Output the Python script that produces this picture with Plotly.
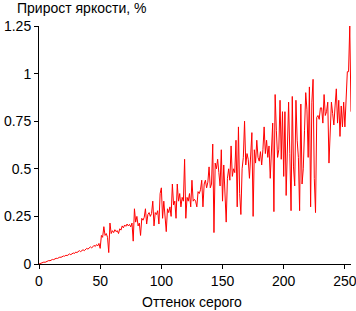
import plotly.graph_objects as go

gray_levels = list(range(256))

brightness_gain = [
    0.000, 0.003, 0.005, 0.008, 0.010, 0.009, 0.013, 0.016, 0.018, 0.017,
    0.021, 0.024, 0.023, 0.028, 0.030, 0.029, 0.033, 0.036, 0.035, 0.040,
    0.042, 0.041, 0.046, 0.044, 0.050, 0.053, 0.049, 0.056, 0.058, 0.055,
    0.063, 0.060, 0.066, 0.070, 0.065, 0.072, 0.075, 0.070, 0.079, 0.082,
    0.078, 0.085, 0.090, 0.084, 0.093, 0.098, 0.092, 0.102, 0.095, 0.108,
    0.082, 0.150, 0.140, 0.196, 0.150, 0.160, 0.140, 0.060, 0.215, 0.160,
    0.175, 0.165, 0.180, 0.170, 0.175, 0.160, 0.185, 0.178, 0.200, 0.190,
    0.205, 0.198, 0.210, 0.200, 0.208, 0.195, 0.215, 0.120, 0.290, 0.220,
    0.250, 0.200, 0.215, 0.150, 0.240, 0.230, 0.245, 0.290, 0.210, 0.260,
    0.270, 0.250, 0.265, 0.330, 0.200, 0.270, 0.260, 0.280, 0.210, 0.370,
    0.400, 0.240, 0.330, 0.250, 0.170, 0.290, 0.270, 0.300, 0.250, 0.420,
    0.310, 0.330, 0.240, 0.420, 0.330, 0.370, 0.300, 0.350, 0.330, 0.550,
    0.240, 0.350, 0.330, 0.370, 0.300, 0.440, 0.330, 0.340, 0.330, 0.300,
    0.380, 0.370, 0.390, 0.440, 0.300, 0.420, 0.440, 0.400, 0.430, 0.510,
    0.400, 0.420, 0.630, 0.165, 0.530, 0.500, 0.550, 0.480, 0.410, 0.600,
    0.330, 0.520, 0.320, 0.220, 0.450, 0.500, 0.440, 0.620, 0.460, 0.500,
    0.480, 0.650, 0.300, 0.720, 0.370, 0.260, 0.500, 0.560, 0.750, 0.520,
    0.580, 0.550, 0.450, 0.570, 0.690, 0.250, 0.600, 0.530, 0.650, 0.560,
    0.540, 0.590, 0.520, 0.600, 0.720, 0.580, 0.650, 0.560, 0.620, 0.450,
    0.640, 0.740, 0.275, 0.890, 0.700, 0.560, 0.600, 0.860, 0.550, 0.800,
    0.460, 0.800, 0.360, 0.620, 0.850, 0.580, 0.280, 0.880, 0.510, 0.410,
    0.860, 0.650, 0.560, 0.280, 0.840, 0.420, 0.500, 0.700, 0.900, 0.810,
    0.560, 0.930, 0.300, 0.850, 0.970, 0.450, 0.270, 0.770, 0.780, 0.760,
    0.820, 0.820, 0.740, 0.890, 0.780, 0.800, 0.850, 0.530, 0.740, 0.850,
    0.790, 0.730, 0.830, 0.920, 0.740, 0.860, 0.670, 0.830, 0.720, 0.850,
    0.720, 0.860, 1.010, 1.010, 1.250, 0.800,
]

x_ticks = [0, 50, 100, 150, 200, 250]
y_ticks = [0, 0.25, 0.5, 0.75, 1, 1.25]
y_tick_text = ["0", "0.25", "0.5", "0.75", "1", "1.25"]

FONT = "Liberation Sans, Arial, sans-serif"

fig = go.Figure(
    go.Scatter(
        x=gray_levels,
        y=brightness_gain,
        mode="lines",
        line=dict(color="#ff0000", width=1),
        hoverinfo="skip",
    )
)

fig.update_layout(
    width=356,
    height=311,
    margin=dict(l=39, r=5, t=26, b=47, autoexpand=False),
    paper_bgcolor="white",
    plot_bgcolor="white",
    showlegend=False,
    font=dict(family=FONT, size=14, color="black"),
    title=dict(
        text="Прирост яркости, %",
        x=17 / 356,
        xanchor="left",
        y=1 - 8 / 311,
        yanchor="middle",
        font=dict(family=FONT, size=14, color="black"),
    ),
    annotations=[
        dict(
            text="Оттенок серого",
            xref="paper",
            yref="paper",
            x=0.49,
            y=(264 - 302) / 238,
            xanchor="center",
            yanchor="middle",
            showarrow=False,
            font=dict(family=FONT, size=14, color="black"),
        )
    ],
)

fig.update_xaxes(
    range=[0, 255],
    tickvals=x_ticks,
    showgrid=False,
    zeroline=False,
    showline=True,
    linecolor="black",
    linewidth=1,
    ticks="outside",
    ticklen=4,
    tickcolor="black",
    ticklabeloverflow="allow",
    automargin=False,
    tickfont=dict(family=FONT, size=14, color="black"),
)
fig.update_yaxes(
    range=[0, 1.25],
    tickvals=y_ticks,
    ticktext=y_tick_text,
    showgrid=False,
    zeroline=False,
    showline=True,
    linecolor="black",
    linewidth=1,
    ticks="outside",
    ticklen=4,
    tickcolor="black",
    ticklabeloverflow="allow",
    automargin=False,
    tickfont=dict(family=FONT, size=14, color="black"),
)

fig.write_html("out.html")
